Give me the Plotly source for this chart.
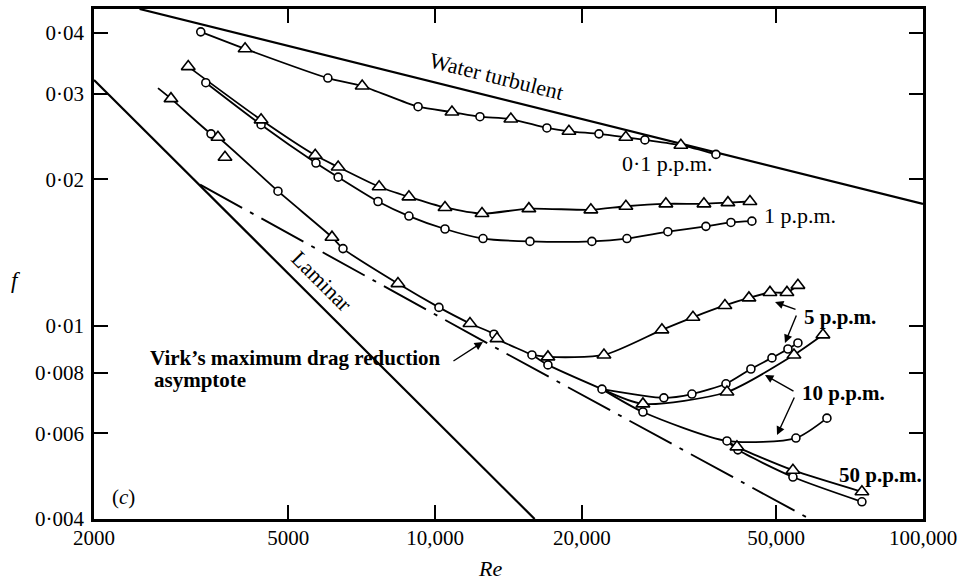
import math
import plotly.graph_objects as go

# ---- reference lines (Re, f) ----
RE_WATER = [2480, 100000]
F_WATER = [0.0448, 0.0178]
RE_LAMINAR = [2000, 16000]
F_LAMINAR = [0.032, 0.004]
RE_VIRK = [3300, 12540, 58600]
F_VIRK = [0.0195, 0.0093, 0.0040]

# ---- 0.1 p.p.m. (o and triangle runs on one curve) ----
RE_01 = [3310, 4080, 6030, 7090, 9230, 10830, 12360, 14300, 16950, 18810,
         21670, 24600, 26920, 31900, 37640]
F_01 = [0.0402, 0.0371, 0.0323, 0.0311, 0.0282, 0.0275, 0.0269, 0.0266, 0.0255,
        0.0251, 0.0248, 0.0244, 0.0241, 0.0235, 0.0225]
KIND_01 = list("o^o^o^o^o^o^o^o")

# ---- 1 p.p.m. ----
RE_1_T = [3120, 4400, 5680, 6330, 7680, 8840, 10480, 12480, 15570, 20860,
          24610, 29720, 35570, 39830, 44190]
F_1_T = [0.0341, 0.0265, 0.0224, 0.0212, 0.0193, 0.0184, 0.0175, 0.0170, 0.0174,
         0.0173, 0.0176, 0.0178, 0.0178, 0.0179, 0.0180]
RE_1_O = [3390, 4400, 5700, 6330, 7640, 8840, 10480, 12540, 15650, 20960,
          24730, 30000, 35900, 40400, 44600]
F_1_O = [0.0316, 0.0259, 0.0216, 0.0202, 0.0180, 0.0168, 0.0158, 0.0151, 0.0149,
         0.0149, 0.0151, 0.0156, 0.0160, 0.0163, 0.0164]

# ---- 5, 10, 50 p.p.m.: common low-Re run ----
RE_LOW = [2705, 2876, 3474, 3590, 4765, 6148, 6476, 8394, 10186, 11791, 13205,
          13393, 15796, 17035, 21983]
F_LOW = [0.0308, 0.0293, 0.0248, 0.0244, 0.0189, 0.0152, 0.0144, 0.0122, 0.0109,
         0.0101, 0.0096, 0.0094, 0.0087, 0.0083, 0.0074]
KIND_LOW = list("-^o^o^o^o^o^ooo")
RE_STRAY = [3711]
F_STRAY = [0.0222]

# ---- 5 p.p.m. ----
RE_5_T = [17035, 22190, 29170, 33770, 39270, 43980, 48570, 52620, 55420]
F_5_T = [0.00862, 0.0087, 0.0098, 0.0104, 0.0110, 0.0114, 0.0117, 0.0117, 0.0121]
RE_5_O = [29440, 33610, 39460, 44390, 49030, 52870, 55420]
F_5_O = [0.0071, 0.00723, 0.00759, 0.00814, 0.00858, 0.00895, 0.00921]

# ---- 10 p.p.m. ----
RE_10_T = [26670, 39650, 54390, 62360]
F_10_T = [0.0069, 0.0073, 0.0087, 0.00957]
RE_10_O = [26670, 39650, 54900, 63550]
F_10_O = [0.00664, 0.00579, 0.00587, 0.00645]

# ---- 50 p.p.m. ----
RE_50_T = [41560, 54130, 74960]
F_50_T = [0.00563, 0.00504, 0.00455]
RE_50_O = [41750, 54130, 74960]
F_50_O = [0.00555, 0.00488, 0.00434]

X_TICKS = [2000, 5000, 10000, 20000, 50000, 100000]
X_TICKTEXT = ["2000", "5000", "10,000", "20,000", "50,000", "100,000"]
Y_TICKS = [0.004, 0.006, 0.008, 0.01, 0.02, 0.03, 0.04]
Y_TICKTEXT = ["0·004", "0·006", "0·008", "0·01", "0·02", "0·03", "0·04"]

SERIF = "Liberation Serif"
INK = "black"

fig = go.Figure()

MARKER_STYLE = {
    "o": dict(symbol="circle", size=8),
    "^": dict(symbol="triangle-up", size=12),
}

line_traces = []
marker_points = {"o": ([], []), "^": ([], [])}


def add_curve(re, f, kinds, start=None):
    """Queue a smoothed curve through the points and its hollow markers."""
    xs, ys = list(re), list(f)
    if start is not None:
        xs = [start[0]] + xs
        ys = [start[1]] + ys
    line_traces.append((xs, ys))
    for r, v, k in zip(re, f, kinds):
        if k in marker_points:
            marker_points[k][0].append(r)
            marker_points[k][1].append(v)


add_curve(RE_01, F_01, KIND_01)
add_curve(RE_1_T, F_1_T, "^" * len(RE_1_T))
add_curve(RE_1_O, F_1_O, "o" * len(RE_1_O))
add_curve(RE_LOW, F_LOW, KIND_LOW)
add_curve(RE_5_T, F_5_T, "^" * len(RE_5_T), start=(RE_LOW[12], F_LOW[12]))
add_curve(RE_5_O, F_5_O, "o" * len(RE_5_O), start=(RE_LOW[-1], F_LOW[-1]))
add_curve(RE_10_T, F_10_T, "^" * len(RE_10_T), start=(RE_LOW[-1], F_LOW[-1]))
add_curve(RE_10_O, F_10_O, "o" * len(RE_10_O), start=(RE_LOW[-1], F_LOW[-1]))
add_curve(RE_50_T, F_50_T, "^" * len(RE_50_T), start=(RE_10_O[1], F_10_O[1]))
add_curve(RE_50_O, F_50_O, "o" * len(RE_50_O), start=(RE_10_O[1], F_10_O[1]))
marker_points["^"][0].extend(RE_STRAY)
marker_points["^"][1].extend(F_STRAY)

# reference lines
fig.add_trace(go.Scatter(x=RE_WATER, y=F_WATER, mode="lines",
                         line=dict(color=INK, width=2.2), showlegend=False, hoverinfo="skip"))
fig.add_trace(go.Scatter(x=RE_LAMINAR, y=F_LAMINAR, mode="lines",
                         line=dict(color=INK, width=2.2), showlegend=False, hoverinfo="skip"))
fig.add_trace(go.Scatter(x=RE_VIRK, y=F_VIRK, mode="lines",
                         line=dict(color=INK, width=1.9, dash="48px,9px,4px,9px"),
                         showlegend=False, hoverinfo="skip"))

# measured curves, then hollow markers on top
for xs, ys in line_traces:
    fig.add_trace(go.Scatter(
        x=xs, y=ys, mode="lines",
        line=dict(color=INK, width=1.8, shape="spline", smoothing=0.7),
        showlegend=False, hoverinfo="skip"))

for kind, (xs, ys) in marker_points.items():
    st = MARKER_STYLE[kind]
    fig.add_trace(go.Scatter(
        x=xs, y=ys, mode="markers",
        marker=dict(symbol=st["symbol"], size=st["size"], color="white",
                    opacity=1, line=dict(color=INK, width=1.6)),
        showlegend=False, hoverinfo="skip"))

axis_common = dict(
    type="log", showgrid=False, zeroline=False,
    showline=True, linecolor=INK, linewidth=2.5, mirror="ticks",
    ticks="inside", ticklen=14, tickwidth=2, tickcolor=INK,
    tickfont=dict(family=SERIF, size=21, color=INK),
    automargin=False,
)
fig.update_xaxes(**axis_common, range=[math.log10(2000), 5],
                 tickvals=X_TICKS, ticktext=X_TICKTEXT, ticklabelstandoff=-2)
fig.update_yaxes(**axis_common, range=[math.log10(0.004), math.log10(0.0448)],
                 tickvals=Y_TICKS, ticktext=Y_TICKTEXT, ticklabelstandoff=3)


def label(text, x, y, size=21, angle=0, anchor="left", bold=False, italic=False):
    fig.add_annotation(
        text=text, x=x, y=y, xref="paper", yref="paper", showarrow=False,
        xanchor=anchor, yanchor="middle", textangle=angle,
        font=dict(family=SERIF, size=size, color=INK,
                  weight="bold" if bold else "normal",
                  style="italic" if italic else "normal"))


def arrow(x_tip, y_tip, ax, ay):
    fig.add_annotation(
        text="", x=x_tip, y=y_tip, xref="paper", yref="paper",
        showarrow=True, ax=ax, ay=ay, arrowhead=2, arrowsize=1.2,
        arrowwidth=1.4, arrowcolor=INK, standoff=0, startstandoff=0)


label("Water turbulent", 0.486, 0.867, size=22, angle=14, anchor="center")
label("Laminar", 0.275, 0.465, size=22, angle=45, anchor="center")
label("Virk\u2019s maximum drag reduction", 0.065, 0.316, bold=True)
label("asymptote", 0.070, 0.2725, bold=True)
label("0·1 p.p.m.", 0.634, 0.698, size=22)
label("1 p.p.m.", 0.806, 0.596, size=22)
label("5 p.p.m.", 0.854, 0.396, bold=True)
label("10 p.p.m.", 0.852, 0.247, bold=True)
label("50 p.p.m.", 0.896, 0.086, bold=True)
label("(<i>c</i>)", 0.035, 0.043, size=21, anchor="center")
label("f", -0.094, 0.467, size=23, anchor="center", italic=True)
label("Re", 0.478, -0.098, size=22, anchor="center", italic=True)

arrow(0.4692, 0.3471, -31, 20)
arrow(0.8215, 0.4255, 22, 8)
arrow(0.8335, 0.3451, 12, -29)
arrow(0.8094, 0.2824, 30, 17)
arrow(0.8239, 0.1647, 18, -39)

fig.update_layout(
    width=961, height=581,
    margin=dict(l=94, r=38, t=9, b=62),
    paper_bgcolor="white", plot_bgcolor="white",
    font=dict(family=SERIF, color=INK),
)

fig.write_html("out.html")
